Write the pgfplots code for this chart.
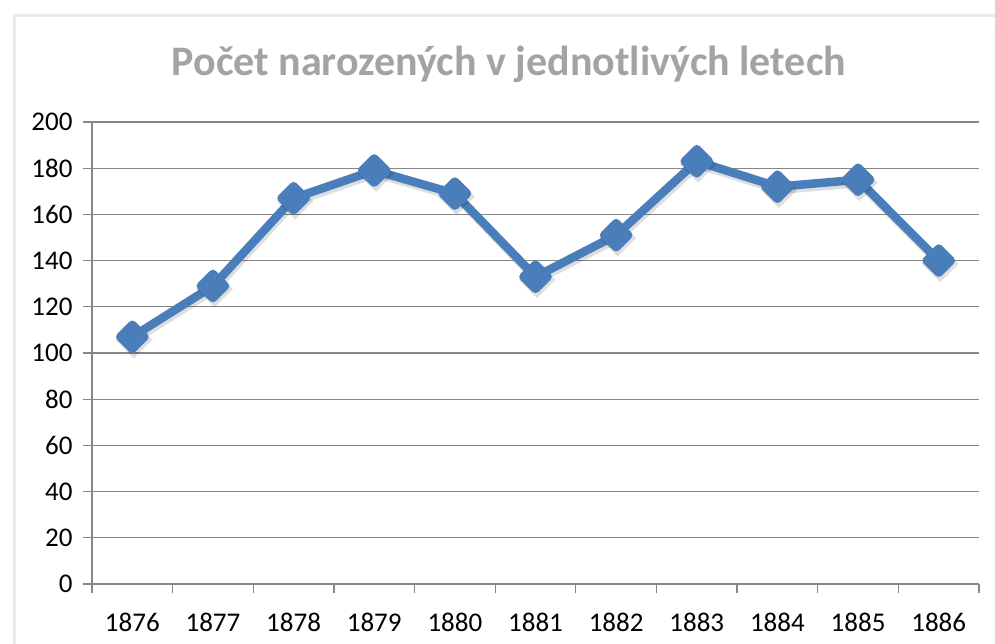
\documentclass[border=0pt]{standalone}
\usepackage{fontspec}
\setmainfont{Carlito}
\usepackage{pgfplots}
\pgfplotsset{compat=1.18}
\definecolor{excelblue}{HTML}{4A7EBB}
\definecolor{gridgray}{HTML}{868686}
\definecolor{framec}{HTML}{EEECE1}
\definecolor{titlegray}{HTML}{A3A3A3}
\begin{document}
\begin{tikzpicture}[x=1pt,y=1pt]
\useasboundingbox (0,0) rectangle (995,644);
\fill[white] (0,0) rectangle (995,644);
\draw[framec, line width=3pt] (14,-5) -- (14,628) -- (1000,628);
\node[font=\fontsize{42}{48}\selectfont\bfseries, text=titlegray] at (509,580) {Počet narozených v jednotlivých letech};
\begin{axis}[
  at={(92pt,60pt)}, anchor=south west,
  scale only axis, width=887pt, height=462pt,
  xmin=-0.5, xmax=10.5, ymin=0, ymax=200,
  ytick={0,20,...,200},
  xtick={0,...,10},
  xticklabels={1876,1877,1878,1879,1880,1881,1882,1883,1884,1885,1886},
  minor xtick={-0.5,0.5,...,10.5},
  ymajorgrids, xmajorgrids=false,
  grid style={gridgray, line width=1.3pt},
  axis x line*=bottom, axis y line*=left,
  axis line style={gridgray, line width=1.3pt, -},
  tick align=outside,
  major tick length=9pt, minor tick length=9pt,
  tick style={gridgray, line width=1.3pt},
  major x tick style={draw=none},
  minor x tick style={gridgray, line width=1.3pt, draw=gridgray},
  /pgf/number format/assume math mode=true,
  ticklabel style={font=\fontsize{27}{31}\selectfont, text=black},
  yticklabel style={xshift=-7pt},
  xticklabel style={yshift=-17pt},
  clip=false,
]
\addplot[black, opacity=0.13, line width=9pt, shift={(1.5pt,-3pt)}, mark=square*, mark size=8.5pt, mark options={rotate=45, draw=none, fill=black}] coordinates {
(0,107) (1,129) (2,167) (3,179) (4,169) (5,133) (6,151) (7,183) (8,172) (9,175) (10,140)
};
\addplot[excelblue, line width=8.5pt, line join=round, mark=square*, mark size=8.5pt, mark options={rotate=45, draw=none, fill=excelblue}] coordinates {
(0,107) (1,129) (2,167) (3,179) (4,169) (5,133) (6,151) (7,183) (8,172) (9,175) (10,140)
};
\end{axis}
\end{tikzpicture}
\end{document}
